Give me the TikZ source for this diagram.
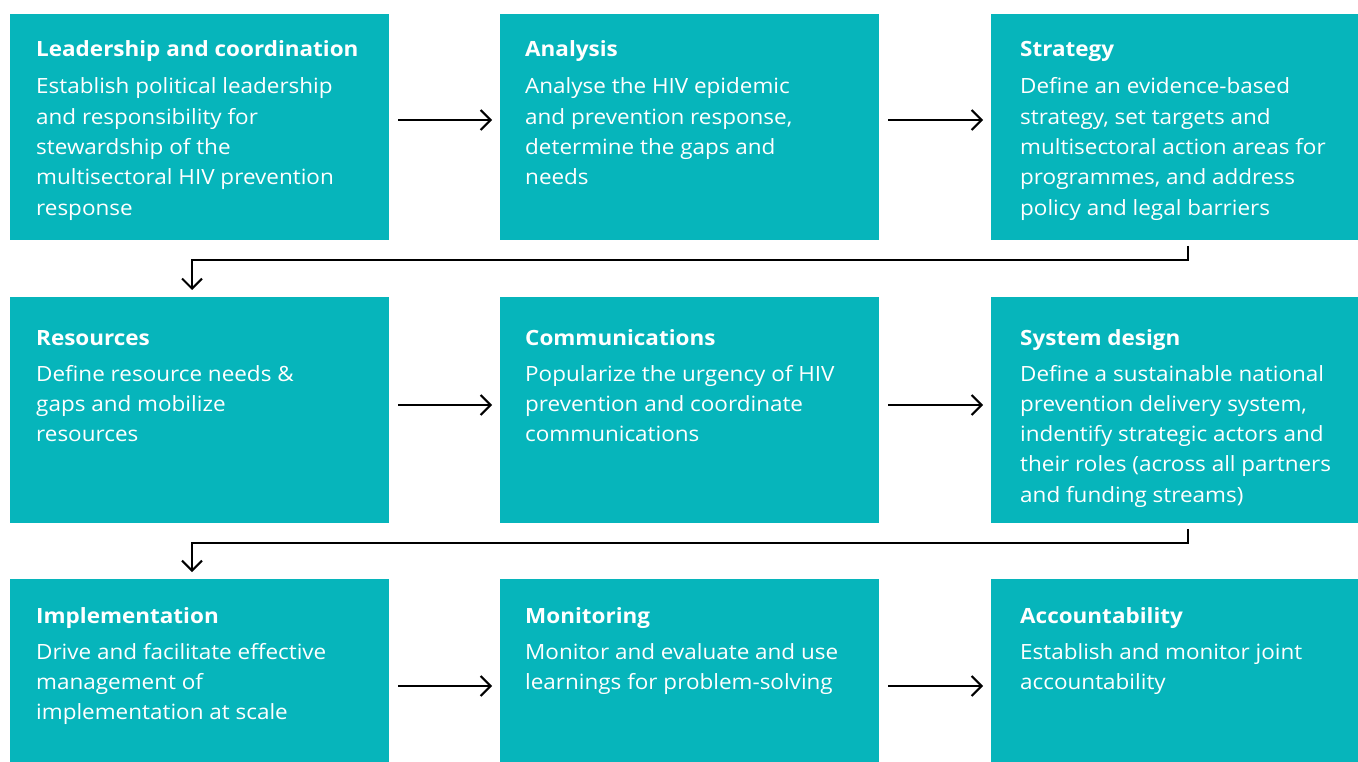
\documentclass[tikz,border=0pt]{standalone}
\usepackage{fontspec}
\setmainfont{Open Sans}[FakeStretch=1.07]
\usetikzlibrary{arrows.meta}
\definecolor{teal1}{HTML}{06B5BB}
\newcommand{\bodylines}[1]{\begin{tabular}[t]{@{}l@{}}#1\end{tabular}}
\tikzset{
  box/.style={fill=teal1, draw=none, inner sep=0pt, outer sep=0pt, anchor=north west},
  head/.style={text=white, inner sep=0pt, anchor=base west, font=\fontsize{21}{30}\selectfont\bfseries},
  body/.style={text=white, inner sep=0pt, anchor=base west, font=\fontsize{21}{30.3}\selectfont},
  flow/.style={line width=2pt, -{Straight Barb[length=10pt,width=20pt,line width=2pt]}},
}
\begin{document}
\begin{tikzpicture}[x=1pt,y=-1pt]
\useasboundingbox (0,0) rectangle (1358,762);
% boxes
\node[box, minimum width=379pt, minimum height=226pt] (b11) at (10,14) {};
\node[box, minimum width=379pt, minimum height=226pt] (b12) at (500,14) {};
\node[box, minimum width=367pt, minimum height=226pt] (b13) at (991,14) {};
\node[box, minimum width=379pt, minimum height=226pt] (b21) at (10,297) {};
\node[box, minimum width=379pt, minimum height=226pt] (b22) at (500,297) {};
\node[box, minimum width=367pt, minimum height=226pt] (b23) at (991,297) {};
\node[box, minimum width=379pt, minimum height=183pt] (b31) at (10,579) {};
\node[box, minimum width=379pt, minimum height=183pt] (b32) at (500,579) {};
\node[box, minimum width=367pt, minimum height=183pt] (b33) at (991,579) {};
% texts row 1
\node[head] (h11) at (36,57) {Leadership and coordination};
\node[body] (t11) at (36,94) {\bodylines{Establish political leadership\\and responsibility for\\stewardship of the\\multisectoral HIV prevention\\response}};
\node[head] (h12) at (525,57) {Analysis};
\node[body] (t12) at (525,94) {\bodylines{Analyse the HIV epidemic\\and prevention response,\\determine the gaps and\\needs}};
\node[head] (h13) at (1020,57) {Strategy};
\node[body] (t13) at (1020,94) {\bodylines{Define an evidence-based\\strategy, set targets and\\multisectoral action areas for\\programmes, and address\\policy and legal barriers}};
% texts row 2
\node[head] (h21) at (36,345) {Resources};
\node[body] (t21) at (36,381) {\bodylines{Define resource needs \&\\gaps and mobilize\\resources}};
\node[head] (h22) at (525,345) {Communications};
\node[body] (t22) at (525,381) {\bodylines{Popularize the urgency of HIV\\prevention and coordinate\\communications}};
\node[head] (h23) at (1020,345) {System design};
\node[body] (t23) at (1020,381) {\bodylines{Define a sustainable national\\prevention delivery system,\\indentify strategic actors and\\their roles (across all partners\\and funding streams)}};
% texts row 3
\node[head] (h31) at (36,623) {Implementation};
\node[body] (t31) at (36,659) {\bodylines{Drive and facilitate effective\\management of\\implementation at scale}};
\node[head] (h32) at (525,623) {Monitoring};
\node[body] (t32) at (525,659) {\bodylines{Monitor and evaluate and use\\learnings for problem-solving}};
\node[head] (h33) at (1020,623) {Accountability};
\node[body] (t33) at (1020,659) {\bodylines{Establish and monitor joint\\accountability}};
% horizontal arrows
\draw[flow, shorten <=9pt, shorten >=8pt] (b11.east |- 0,120) -- (b12.west |- 0,120);
\draw[flow, shorten <=9pt, shorten >=8pt] (b12.east |- 0,120) -- (b13.west |- 0,120);
\draw[flow, shorten <=9pt, shorten >=8pt] (b21.east |- 0,405) -- (b22.west |- 0,405);
\draw[flow, shorten <=9pt, shorten >=8pt] (b22.east |- 0,405) -- (b23.west |- 0,405);
\draw[flow, shorten <=9pt, shorten >=8pt] (b31.east |- 0,686) -- (b32.west |- 0,686);
\draw[flow, shorten <=9pt, shorten >=8pt] (b32.east |- 0,686) -- (b33.west |- 0,686);
% elbow connectors
\draw[flow, shorten <=6pt, shorten >=7pt] (b13.south -| 1188,0) -- (1188,260) -| (b21.north -| 192,0);
\draw[flow, shorten <=6pt, shorten >=7pt] (b23.south -| 1188,0) -- (1188,543) -| (b31.north -| 192,0);
\end{tikzpicture}
\end{document}
